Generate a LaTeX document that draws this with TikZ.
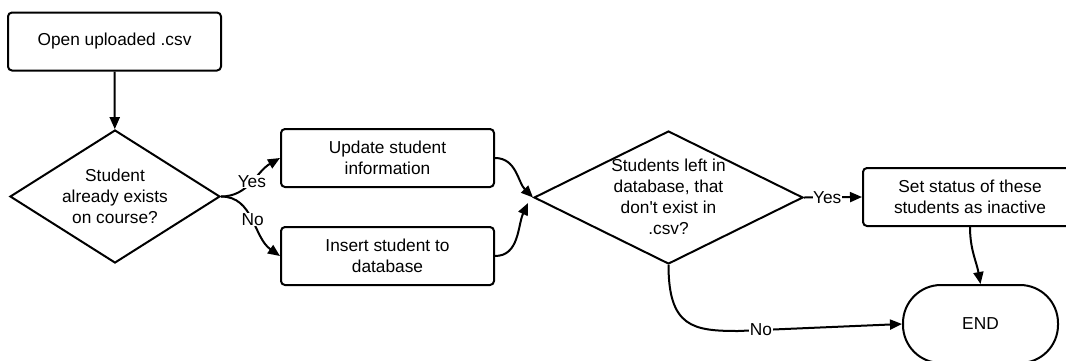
\documentclass[tikz,border=0pt]{standalone}
\usepackage{fontspec}
\setmainfont{Liberation Sans}[Ligatures=TeXOff]
\usetikzlibrary{arrows.meta,shapes.geometric}
\begin{document}
\begin{tikzpicture}[x=1pt,y=-1pt,
  every node/.style={font=\fontsize{17.3}{21}\selectfont},
  box/.style={draw,line width=2pt,rounded corners=4pt,minimum width=213pt,minimum height=58pt,align=center,inner sep=0pt},
  dia/.style={draw,line width=2pt,diamond,inner sep=0pt},
  txt/.style={align=center,inner sep=0pt},
  arr/.style={line width=2pt,-{Triangle[length=12pt,width=10pt]}},
  lab/.style={fill=white,inner sep=0.5pt}]
\useasboundingbox (0,0) rectangle (1066,360);
\node[box] (open) at (114.5,41.5) {Open uploaded .csv};
\node[dia,minimum width=210pt,minimum height=133pt] (d1) at (115,196.5) {};
\node[txt] (d1t) at (115,196) {Student\\already exists\\on course?};
\node[box] (upd) at (387.5,158) {Update student\\information};
\node[box] (ins) at (387.5,256) {Insert student to\\database};
\node[dia,minimum width=269pt,minimum height=133pt] (d2) at (668.5,197.5) {};
\node[txt] (d2t) at (668.5,197) {Students left in\\database, that\\don't exist in\\.csv?};
\node[box,minimum width=214pt] (set) at (970,197) {Set status of these\\students as inactive};
\node[draw,line width=2pt,rounded corners=38pt,minimum width=155pt,minimum height=78pt] (endn) at (980.5,324) {END};
\coordinate (nok) at (738,331);
\coordinate (d2in) at (528,203);
\draw[arr] (open) -- (d1);
\draw[arr] (d1.east) to[out=0,in=210] node[lab,pos=0.5,yshift=1pt]{Yes} (upd.west);
\draw[arr] (d1.east) to[out=0,in=145] node[lab,pos=0.5]{No} (ins.west);
\draw[arr] (upd.east) to[out=0,in=135] (d2.west);
\draw[arr] (ins.east) to[out=0,in=245] (d2in);
\draw[arr] (d2.east) -- node[lab,pos=0.4]{Yes} (set.west);
\draw[arr] (set.south) to[out=-90,in=100] (endn.north);
\draw[line width=2pt] (d2.south) .. controls +(0,62) and +(-45,0) .. (nok);
\draw[arr] (nok) -- node[lab,pos=0.14]{No} (endn.west);
\end{tikzpicture}
\end{document}
